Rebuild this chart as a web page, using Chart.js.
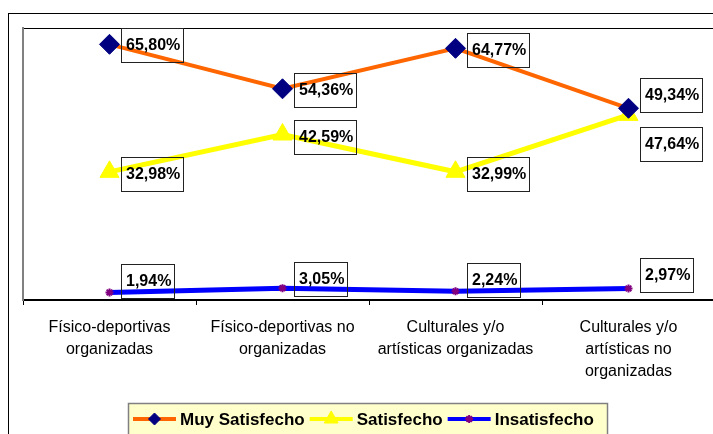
<html>
<head>
  <meta charset="utf-8">
  <title>Grado de satisfacción por tipo de actividad</title>
  <script src="https://cdn.jsdelivr.net/npm/chart.js"></script>
  <style>
    body {
      margin: 0;
      overflow: hidden;
      background-color: white;
    }
    #contenedor {
      position: absolute;
      left: 0;
      top: 0;
    }
  </style>
</head>
<body>
  <div id="contenedor"><canvas id="grafico" width="740" height="434"></canvas></div>
  <script>
    // datos
    var categorias = [
      ["Físico-deportivas", "organizadas"],
      ["Físico-deportivas no", "organizadas"],
      ["Culturales y/o", "artísticas organizadas"],
      ["Culturales y/o", "artísticas no", "organizadas"]
    ];
    var nombresSeries = ["Muy Satisfecho", "Satisfecho", "Insatisfecho"];
    var muySatisfecho = [65.80, 54.36, 64.77, 49.34];
    var satisfecho = [32.98, 42.59, 32.99, 47.64];
    var insatisfecho = [1.94, 3.05, 2.24, 2.97];

    var fuente = '"Liberation Sans", Arial, sans-serif';

    // desplazamiento vertical de cada etiqueta respecto a su punto
    var desplazEtiquetas = [
      [1, 1, 2, -13],
      [2, 2, 2, 29],
      [-11, -9, -11, -13]
    ];
    // tamaño de los marcadores en la leyenda
    var radioLeyenda = [6, 8, 4];

    // marco exterior y borde superior del area del grafico
    var marcoPlugin = {
      id: 'marco',
      beforeDraw: function (chart) {
        var ctx = chart.ctx;
        var area = chart.chartArea;
        ctx.save();
        ctx.strokeStyle = '#000';
        ctx.lineWidth = 1;
        ctx.strokeRect(8.5, 13.5, 800, 500);
        ctx.beginPath();
        ctx.moveTo(area.left, area.top + 0.5);
        ctx.lineTo(area.right + 10, area.top + 0.5);
        ctx.stroke();
        ctx.restore();
      }
    };

    // etiquetas con recuadro (sin relleno) a la derecha de cada punto
    var etiquetasPlugin = {
      id: 'etiquetas',
      afterDatasetsDraw: function (chart) {
        var ctx = chart.ctx;
        ctx.save();
        ctx.font = 'bold 16px ' + fuente;
        ctx.textBaseline = 'middle';
        chart.data.datasets.forEach(function (ds, d) {
          var meta = chart.getDatasetMeta(d);
          meta.data.forEach(function (p, i) {
            var txt = ds.data[i].toFixed(2).replace('.', ',') + '%';
            var w = Math.round(ctx.measureText(txt).width + 8);
            var x = Math.round(p.x + 11);
            var y = Math.round(p.y + desplazEtiquetas[d][i] - 17);
            ctx.strokeStyle = '#222';
            ctx.lineWidth = 1;
            ctx.strokeRect(x + 0.5, y + 0.5, w, 34);
            ctx.fillStyle = '#000';
            ctx.fillText(txt, x + 5, y + 18);
          });
        });
        ctx.restore();
      }
    };

    // leyenda dibujada a mano: linea + marcador + texto
    var leyendaPlugin = {
      id: 'leyenda',
      afterDraw: function (chart) {
        var ctx = chart.ctx;
        ctx.save();
        ctx.fillStyle = '#FFFFCC';
        ctx.fillRect(128, 403, 479, 40);
        ctx.strokeStyle = '#808080';
        ctx.lineWidth = 1.5;
        ctx.strokeRect(128.5, 403.5, 479, 40);
        ctx.font = 'bold 17px ' + fuente;
        ctx.textBaseline = 'middle';
        var x = 133;
        var yc = 419;
        chart.data.datasets.forEach(function (ds, d) {
          ctx.strokeStyle = ds.borderColor;
          ctx.lineWidth = 4;
          ctx.beginPath();
          ctx.moveTo(x, yc);
          ctx.lineTo(x + 43, yc);
          ctx.stroke();
          ctx.fillStyle = ds.pointBackgroundColor;
          ctx.strokeStyle = ds.pointBorderColor;
          ctx.lineWidth = ds.pointBorderWidth;
          Chart.helpers.drawPoint(ctx, {
            pointStyle: ds.pointStyle,
            radius: radioLeyenda[d],
            rotation: 0,
            borderWidth: ds.pointBorderWidth
          }, x + 21.5, yc);
          ctx.fillStyle = '#000';
          ctx.fillText(ds.label, x + 47, yc + 1);
          x = x + 47 + ctx.measureText(ds.label).width + 5;
        });
        ctx.restore();
      }
    };

    new Chart(document.getElementById('grafico'), {
      type: 'line',
      data: {
        labels: categorias,
        datasets: [{
          label: nombresSeries[0],
          data: muySatisfecho,
          borderColor: '#FF6600',
          borderWidth: 4,
          pointStyle: 'rectRot',
          pointRadius: 10,
          pointBackgroundColor: '#000080',
          pointBorderColor: '#000080',
          pointBorderWidth: 1
        }, {
          label: nombresSeries[1],
          data: satisfecho,
          borderColor: '#FFFF00',
          borderWidth: 5,
          pointStyle: 'triangle',
          pointRadius: 11,
          pointBackgroundColor: '#FFFF00',
          pointBorderColor: '#FFFF00',
          pointBorderWidth: 1
        }, {
          label: nombresSeries[2],
          data: insatisfecho,
          borderColor: '#0000FF',
          borderWidth: 5,
          pointStyle: 'star',
          pointRadius: 4,
          pointBackgroundColor: '#800080',
          pointBorderColor: '#800080',
          pointBorderWidth: 2
        }]
      },
      options: {
        responsive: false,
        animation: false,
        devicePixelRatio: 1,
        layout: {
          padding: { left: 23, top: 28, right: 25, bottom: 39 }
        },
        plugins: {
          legend: { display: false },
          tooltip: { enabled: false }
        },
        scales: {
          x: {
            offset: true,
            grid: {
              offset: true,
              drawOnChartArea: false,
              drawTicks: true,
              tickLength: 5,
              color: '#000'
            },
            border: { color: '#000', width: 2 },
            ticks: {
              color: '#000',
              padding: 12,
              maxRotation: 0,
              autoSkip: false,
              font: { family: fuente, size: 16, lineHeight: 1.375 }
            }
          },
          y: {
            min: 0,
            max: 70,
            grid: { display: false, drawTicks: false },
            border: { color: '#808080', width: 2 },
            ticks: { display: false }
          }
        }
      },
      plugins: [marcoPlugin, etiquetasPlugin, leyendaPlugin]
    });
  </script>
</body>
</html>
